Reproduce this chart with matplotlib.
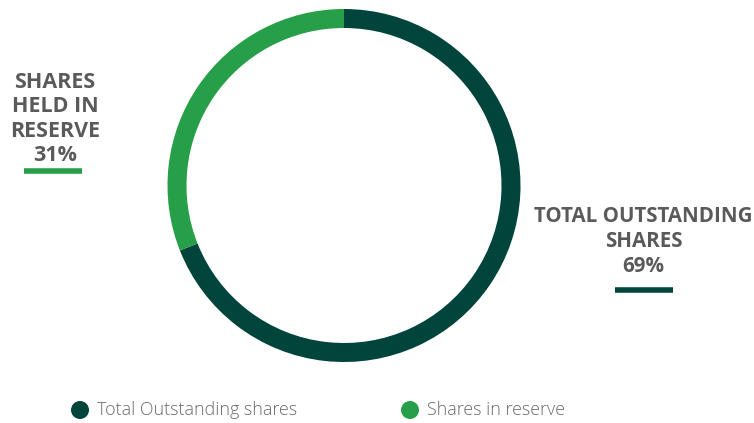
import matplotlib
matplotlib.use("Agg")
import matplotlib.pyplot as plt
from matplotlib.patches import Circle

labels = ["Total Outstanding shares", "Shares in reserve"]
values = [69, 31]
colors = ["#00443b", "#279e48"]
callouts = ["TOTAL OUTSTANDING\nSHARES\n69%", "SHARES\nHELD IN\nRESERVE\n31%"]

H = 423
plt.rcParams["font.family"] = ["Open Sans", "DejaVu Sans"]

fig = plt.figure(figsize=(7.54, 4.23), dpi=100)
ax = fig.add_axes([0, 0, 1, 1])
ax.set_xlim(0, 754)
ax.set_ylim(0, H)
ax.set_aspect("equal")
ax.axis("off")

# donut ring
ax.pie(values, colors=colors, startangle=90, counterclock=False,
       center=(344, H - 185.5), radius=176.5,
       wedgeprops=dict(width=19, linewidth=0))
ax.set_xlim(0, 754)
ax.set_ylim(0, H)

txt = "#5a5a5a"
# right callout
ax.text(643.5, H - 241, callouts[0], ha="center", va="center", fontsize=14.8,
        fontweight="bold", color=txt, linespacing=1.25)
ax.plot([615, 673], [H - 290, H - 290], color=colors[0], lw=4, solid_capstyle="butt")
# left callout
ax.text(55, H - 119, callouts[1], ha="center", va="center", fontsize=15.5,
        fontweight="bold", color=txt, linespacing=1.2)
ax.plot([24, 82], [H - 171, H - 171], color=colors[1], lw=4, solid_capstyle="butt")

# legend
for x, lab, c in zip([80, 410], labels, colors):
    ax.add_patch(Circle((x, H - 410), 9, color=c, lw=0))
    ax.text(x + 17, H - 410, lab, ha="left", va="center", fontsize=12.9,
            color="#6a6a6a", fontweight="light")

fig.savefig("out.png", dpi=100)
